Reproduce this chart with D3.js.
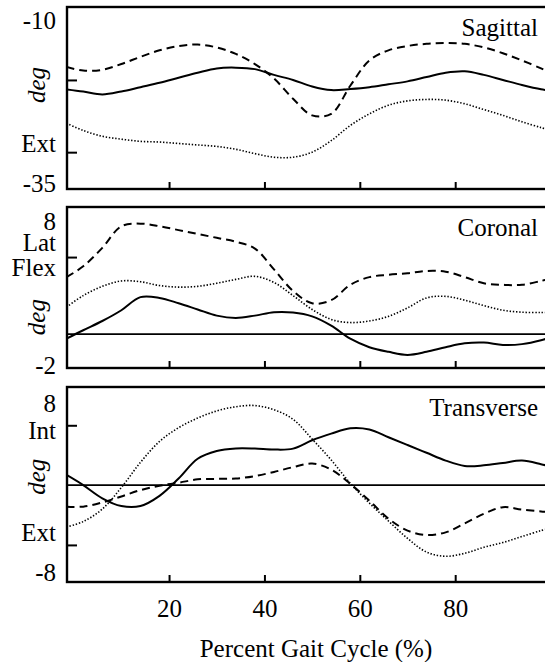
<!DOCTYPE html>
<html>
<head>
<meta charset="utf-8">
<script src="https://cdn.jsdelivr.net/npm/d3@7"></script>
</head>
<body style="margin:0">
<div id="chart"></div>
<script>
// percent of gait cycle, shared by every series
const pct = [-1.5, 2, 6, 10, 14, 18, 22, 26, 30, 34, 38, 42, 46, 50, 54, 58, 62, 66, 70, 74, 78, 82, 86, 90, 94, 98, 100];

const sagSolid  = [-21.3, -21.6, -22.0, -21.6, -21.0, -20.4, -19.7, -19.0, -18.4, -18.3, -18.5, -19.3, -20.0, -20.9, -21.4, -21.25, -21.0, -20.6, -20.2, -19.6, -19.0, -18.8, -19.3, -20.0, -20.7, -21.3, -21.5];
const sagDashed = [-18.2, -18.7, -18.6, -17.8, -16.8, -15.9, -15.3, -15.1, -15.5, -16.4, -17.8, -19.8, -22.6, -24.9, -24.7, -20.8, -17.3, -15.9, -15.3, -15.0, -14.9, -15.0, -15.5, -16.3, -17.3, -18.4, -19.0];
const sagDotted = [-26.0, -27.0, -27.8, -28.2, -28.5, -28.6, -28.8, -29.0, -29.2, -29.6, -30.2, -30.7, -30.7, -30.0, -28.4, -26.3, -24.7, -23.5, -22.9, -22.7, -22.8, -23.3, -24.1, -24.9, -25.8, -26.6, -27.0];

const corSolid  = [-0.3, 0.25, 0.85, 1.55, 2.4, 2.35, 2.0, 1.6, 1.2, 1.05, 1.2, 1.42, 1.4, 1.15, 0.55, -0.3, -0.85, -1.15, -1.35, -1.15, -0.85, -0.6, -0.55, -0.7, -0.65, -0.4, -0.2];
const corDashed = [3.7, 4.4, 5.6, 7.0, 7.17, 7.0, 6.75, 6.5, 6.25, 6.0, 5.55, 4.2, 2.8, 2.0, 2.2, 3.2, 3.7, 3.85, 3.95, 4.1, 4.05, 3.7, 3.3, 3.2, 3.2, 3.45, 3.6];
const corDotted = [1.75, 2.5, 3.1, 3.45, 3.4, 3.15, 3.05, 3.1, 3.3, 3.55, 3.75, 3.35, 2.5, 1.6, 0.95, 0.75, 0.85, 1.15, 1.7, 2.35, 2.45, 2.2, 1.85, 1.55, 1.42, 1.4, 1.4];

const traSolid  = [0.85, 0.0, -1.1, -1.75, -1.75, -0.9, 0.55, 2.2, 2.85, 3.06, 3.05, 2.97, 3.05, 3.75, 4.3, 4.75, 4.65, 4.0, 3.35, 2.7, 2.05, 1.6, 1.65, 1.85, 2.05, 1.75, 1.55];
const traDashed = [-1.8, -1.8, -1.45, -0.95, -0.42, -0.05, 0.2, 0.48, 0.52, 0.55, 0.75, 1.1, 1.5, 1.8, 1.3, 0.1, -1.3, -2.8, -3.8, -4.17, -3.95, -3.2, -2.4, -1.85, -2.05, -2.2, -2.25];
const traDotted = [-3.5, -3.05, -2.0, -0.2, 1.9, 3.65, 4.8, 5.6, 6.2, 6.55, 6.65, 6.3, 5.5, 3.85, 2.1, 0.15, -1.5, -3.0, -4.45, -5.6, -5.95, -5.7, -5.2, -4.8, -4.3, -3.8, -3.6];

const xTicks = [20, 40, 60, 80];
const xTitle = "Percent Gait Cycle (%)";

const panels = [
  { name: "Sagittal", domain: [-35.1, -9.9], ticks: [-20, -30], zero: false,
    series: [sagSolid, sagDashed, sagDotted],
    labels: [["-10", -11.8], ["Ext", -28.8], ["-35", -34.3]], degAt: -20.7,
    top: 7, bottom: 189 },
  { name: "Coronal", domain: [-2.2, 8.25], ticks: [5], zero: true,
    series: [corSolid, corDashed, corDotted],
    labels: [["8", 7.35], ["Lat", 5.95], ["Flex", 4.35], ["-2", -2.0]], degAt: 1.1,
    top: 207, bottom: 368 },
  { name: "Transverse", domain: [-8.1, 8.2], ticks: [5, -5], zero: true,
    series: [traSolid, traDashed, traDotted],
    labels: [["8", 6.8], ["Int", 4.6], ["Ext", -3.9], ["-8", -7.3]], degAt: 0.7,
    top: 387, bottom: 582 }
];

const styles = [
  { width: 2, dash: null },
  { width: 2, dash: "8,5" },
  { width: 1.6, dash: "1.4,1.8" }
];

const W = 545, H = 662;
const left = 67;
const FONT = "'Liberation Serif'";
const x = d3.scaleLinear().domain([-1.4, 100]).range([left, left + 101.4 * 4.769]);

const svg = d3.select("#chart").append("svg").attr("width", W).attr("height", H);

function label(sel) {
  return sel.style("font-family", FONT).style("font-size", "25px").attr("fill", "#000");
}

panels.forEach(function (p, i) {
  const y = d3.scaleLinear().domain(p.domain).range([p.bottom, p.top]);
  const g = svg.append("g");

  g.append("clipPath").attr("id", "clip" + i)
    .append("rect").attr("x", x.range()[0]).attr("y", p.top)
    .attr("width", x.range()[1] - x.range()[0]).attr("height", p.bottom - p.top);

  if (p.zero) {
    g.append("line").attr("x1", x.range()[0]).attr("x2", x.range()[1])
      .attr("y1", y(0)).attr("y2", y(0))
      .attr("stroke", "#000").attr("stroke-width", 1.8);
  }

  const line = d3.line().x((d, k) => x(pct[k])).y(d => y(d)).curve(d3.curveCatmullRom.alpha(0.5));
  p.series.forEach(function (s, k) {
    g.append("path").datum(s)
      .attr("clip-path", "url(#clip" + i + ")")
      .attr("d", line)
      .attr("fill", "none").attr("stroke", "#000")
      .attr("stroke-width", styles[k].width)
      .attr("stroke-dasharray", styles[k].dash);
  });

  // y ticks, inward, no labels
  const ya = g.append("g").attr("transform", "translate(" + left + ",0)")
    .call(d3.axisLeft(y).tickValues(p.ticks).tickSize(-10).tickFormat(""));
  ya.select(".domain").remove();
  ya.selectAll("line").attr("stroke-width", 2);

  // x ticks, inward
  const last = i === panels.length - 1;
  const xa = g.append("g").attr("transform", "translate(0," + p.bottom + ")")
    .call(d3.axisBottom(x).tickValues(xTicks).tickSize(-7).tickPadding(17)
      .tickFormat(last ? d3.format("d") : ""));
  xa.select(".domain").remove();
  xa.selectAll("line").attr("stroke-width", 2);
  label(xa.selectAll("text"));

  // frame
  g.append("rect").attr("x", x.range()[0]).attr("y", p.top)
    .attr("width", x.range()[1] - x.range()[0]).attr("height", p.bottom - p.top)
    .attr("fill", "none").attr("stroke", "#000").attr("stroke-width", 2.4);

  // side labels
  p.labels.forEach(function (l) {
    label(g.append("text").attr("x", 56).attr("y", y(l[1]))
      .attr("dy", "0.35em").attr("text-anchor", "end")).text(l[0]);
  });

  label(g.append("text")
    .attr("transform", "translate(37," + y(p.degAt) + ") rotate(-90)")
    .attr("text-anchor", "middle").attr("dy", "0.3em"))
    .style("font-style", "italic").text("deg");

  label(g.append("text").attr("x", 538).attr("y", p.top + 20)
    .attr("dy", "0.35em").attr("text-anchor", "end")).text(p.name);
});

label(svg.append("text").attr("x", 316).attr("y", 648)
  .attr("dy", "0.35em").attr("text-anchor", "middle")).text(xTitle);
</script>
</body>
</html>
